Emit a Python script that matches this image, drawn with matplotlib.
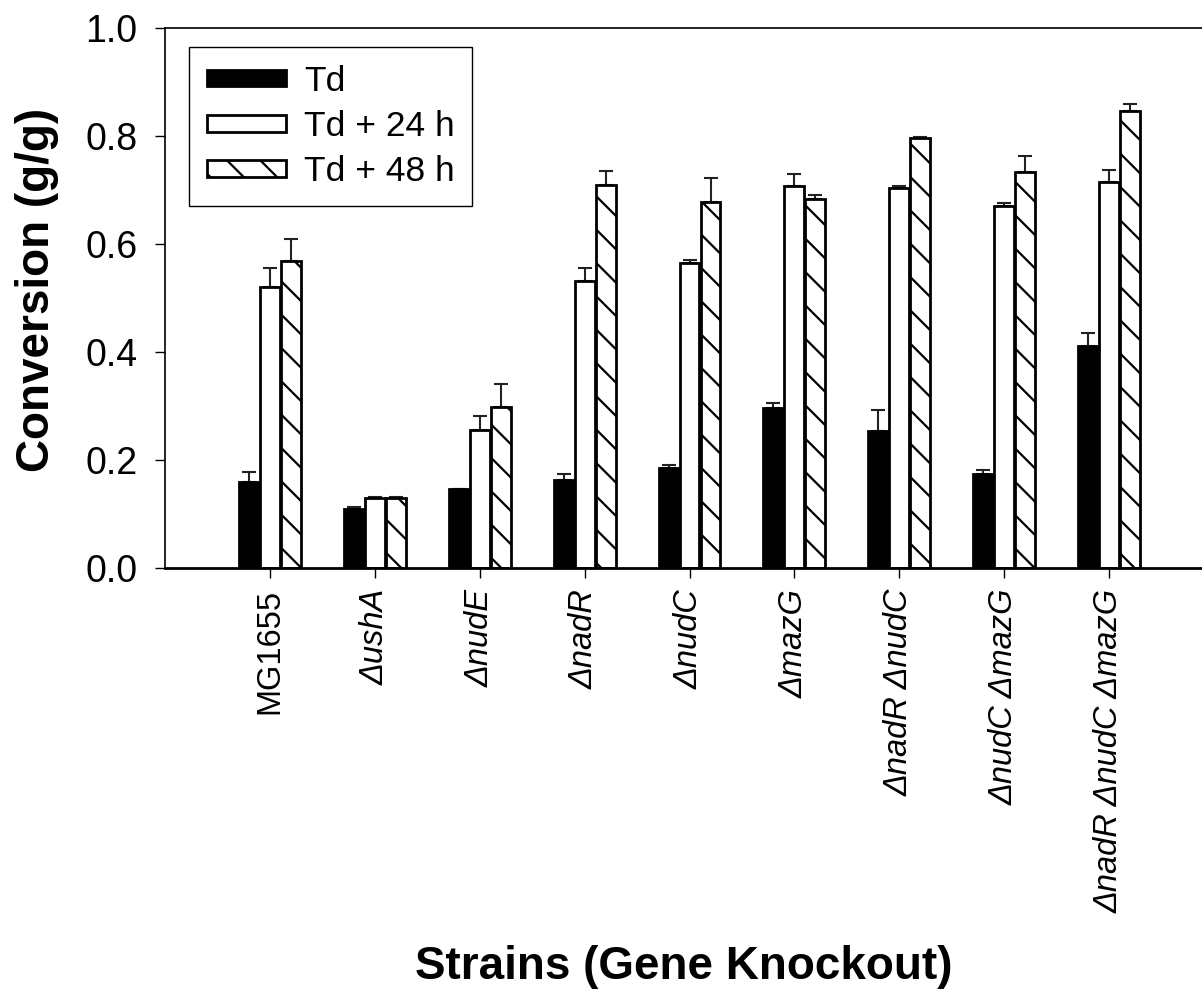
import matplotlib
matplotlib.use('Agg')
import matplotlib.pyplot as plt
import numpy as np

# Data
strains = ['MG1655', '\u0394ushA', '\u0394nudE', '\u0394nadR', '\u0394nudC', '\u0394mazG',
           '\u0394nadR \u0394nudC', '\u0394nudC \u0394mazG', '\u0394nadR \u0394nudC \u0394mazG']

td = [0.160, 0.110, 0.147, 0.163, 0.186, 0.297, 0.253, 0.175, 0.411]
td_err = [0.018, 0.003, 0.0, 0.011, 0.004, 0.008, 0.040, 0.007, 0.024]

td24 = [0.520, 0.129, 0.256, 0.532, 0.565, 0.707, 0.704, 0.670, 0.714]
td24_err = [0.036, 0.003, 0.025, 0.024, 0.006, 0.023, 0.003, 0.006, 0.023]

td48 = [0.569, 0.129, 0.299, 0.709, 0.677, 0.683, 0.796, 0.734, 0.846]
td48_err = [0.040, 0.003, 0.042, 0.027, 0.046, 0.008, 0.003, 0.029, 0.014]

series_labels = ['Td', 'Td + 24 h', 'Td + 48 h']

# Style
plt.rcParams['font.family'] = ['Liberation Sans', 'DejaVu Sans']
plt.rcParams['hatch.linewidth'] = 1.6
plt.rcParams['hatch.color'] = 'black'

fig = plt.figure(figsize=(12.02, 9.89), dpi=100)
ax = fig.add_axes([165 / 1202, 1 - 568 / 989, 1 - 165 / 1202, 540 / 989])

x = np.arange(len(strains))
width = 0.19
offsets = [-0.2, 0.0, 0.2]
values = [td, td24, td48]
errors = [td_err, td24_err, td48_err]
faces = ['black', 'white', 'white']
hatches = [None, None, '\\']

for i in range(3):
    err = np.array(errors[i])
    ax.bar(x + offsets[i], values[i], width, color=faces[i], edgecolor='black',
           linewidth=2, hatch=hatches[i], label=series_labels[i], zorder=2,
           yerr=[np.zeros_like(err), err],
           error_kw=dict(ecolor='#222222', elinewidth=1.5, capsize=5, capthick=1.5, zorder=1))

ax.set_xlim(-1.0, 8.885)
ax.set_ylim(0, 1.0)
ax.set_yticks([0.0, 0.2, 0.4, 0.6, 0.8, 1.0])
ax.set_yticklabels(['0.0', '0.2', '0.4', '0.6', '0.8', '1.0'])
ax.set_xticks(x)
ax.set_xticklabels(strains, rotation=90, va='top', ha='center')
for lbl in ax.get_xticklabels():
    if lbl.get_text() != 'MG1655':
        lbl.set_fontstyle('italic')

ax.tick_params(axis='y', direction='out', length=7, width=1, labelsize=27, pad=13)
ax.tick_params(axis='x', direction='out', length=7, width=1, labelsize=23.5, pad=8)

ax.spines['right'].set_visible(False)
ax.spines['top'].set_linewidth(1.2)
ax.spines['left'].set_linewidth(1.2)
ax.spines['bottom'].set_linewidth(2)

ax.set_ylabel('Conversion (g/g)', fontsize=33, fontweight='bold')
ax.yaxis.set_label_coords(-0.102, 0.515)
ax.set_xlabel('Strains (Gene Knockout)', fontsize=33, fontweight='bold')
ax.xaxis.set_label_coords(0.5, -0.698)

leg = ax.legend(loc='upper left', bbox_to_anchor=(0.0231, 0.965), borderaxespad=0,
                fontsize=25.5, handlelength=2.25, handleheight=0.35, handletextpad=0.5,
                labelspacing=0.35, borderpad=0.5, fancybox=False, framealpha=1,
                edgecolor='black')
leg.get_frame().set_linewidth(1)

fig.savefig('out.png', dpi=100)
